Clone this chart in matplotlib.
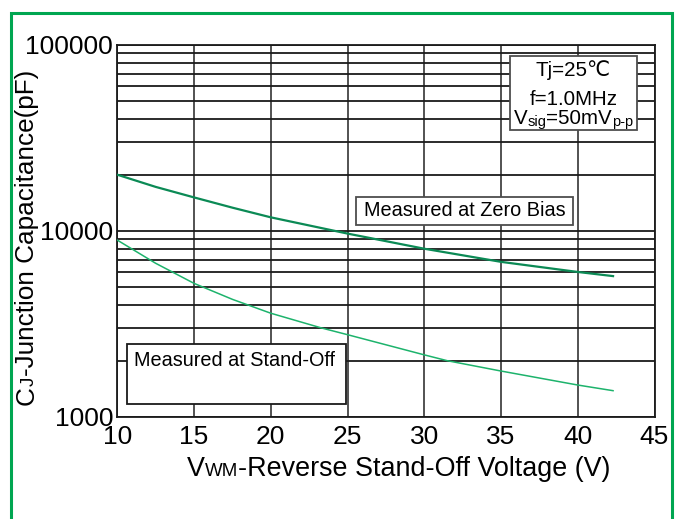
import matplotlib
matplotlib.use("Agg")
import matplotlib.pyplot as plt
from matplotlib.patches import Rectangle
from matplotlib.ticker import FixedLocator, NullFormatter

# ---------------- data ----------------
zero_bias_v = [10, 12.5, 15, 17.5, 20, 25, 30, 35, 40, 42.3]
zero_bias_c = [20000, 17200, 15100, 13300, 11800, 9650, 8000, 6800, 6000, 5700]

standoff_v = [10, 12.5, 15, 17.5, 20, 23.3, 25, 30, 31.5, 35, 40, 42.3]
standoff_c = [8900, 6680, 5210, 4275, 3600, 3000, 2760, 2150, 2000, 1760, 1480, 1380]

x_ticks = [10, 15, 20, 25, 30, 35, 40, 45]
y_ticks = [1000, 10000, 100000]
y_tick_labels = ["1000", "10000", "100000"]

FAM = ["Liberation Sans", "DejaVu Sans"]
plt.rcParams["font.family"] = FAM

W, H = 678, 519
fig = plt.figure(figsize=(W / 100, H / 100), dpi=100)

def fx(x):
    return x / W

def fy(y):
    return 1 - y / H

# axes placement in pixels
L, R, T, B = 117.3, 654.5, 44.7, 416.7
ax = fig.add_axes([fx(L), fy(B), (R - L) / W, (B - T) / H])

ax.set_yscale("log")
ax.set_xlim(10, 45)
ax.set_ylim(1000, 100000)

ax.set_xticks(x_ticks)
ax.set_xticklabels([str(t) for t in x_ticks])
ax.yaxis.set_major_locator(FixedLocator(y_ticks))
ax.set_yticklabels(y_tick_labels)
minor = [m * d for d in (1000, 10000) for m in range(2, 10)]
ax.yaxis.set_minor_locator(FixedLocator(minor))
ax.yaxis.set_minor_formatter(NullFormatter())
ax.tick_params(axis="both", which="both", length=0)
ax.tick_params(axis="y", labelsize=19, pad=3)
ax.tick_params(axis="x", labelsize=19, pad=6)

ax.grid(True, which="both", axis="y", color="#1a1a1a", linewidth=1.3)
ax.grid(True, which="major", axis="x", color="#444444", linewidth=1.3)
ax.set_axisbelow(True)
for s in ax.spines.values():
    s.set_color("#1a1a1a")
    s.set_linewidth(1.3)

ax.plot(zero_bias_v, zero_bias_c, color="#0b8a55", linewidth=1.6, zorder=3)
ax.plot(standoff_v, standoff_c, color="#1db36c", linewidth=1.1, zorder=3)

fig.canvas.draw()
rend = fig.canvas.get_renderer()

def seg_text(segs, cx, cy, rot=0, z=6):
    """segs: list of (text, size, dy_px). cx: centre, cy: baseline (pixels from top-left)."""
    widths = []
    for s, size, dy in segs:
        t = fig.text(0, 0, s, fontsize=size)
        widths.append(t.get_window_extent(rend).width)
        t.remove()
    total = sum(widths)
    pos = -total / 2
    for (s, size, dy), w in zip(segs, widths):
        if rot == 0:
            fig.text(fx(cx + pos), fy(cy + dy), s, fontsize=size,
                     ha="left", va="baseline", zorder=z)
        else:
            fig.text(fx(cx + dy), fy(cy - pos), s, fontsize=size,
                     ha="left", va="baseline", rotation=90,
                     rotation_mode="anchor", zorder=z)
        pos += w

# axis labels
seg_text([("V", 19.4, 0), ("WM", 13.5, 0), ("-Reverse Stand-Off Voltage (V)", 19.4, 0)],
         399, 476)
seg_text([("C", 18.8, 0), ("J", 13.5, 0), ("-Junction Capacitance(pF)", 18.8, 0)],
         34, 237.5, rot=90)

# annotation boxes
fig.add_artist(Rectangle((fx(356), fy(225)), (573 - 356) / W, (225 - 196.7) / H,
                         transform=fig.transFigure, facecolor="white",
                         edgecolor="#4d4d4d", linewidth=1.3, zorder=5))
fig.text(fx(464.5), fy(211), "Measured at Zero Bias", fontsize=14.3,
         ha="center", va="center", zorder=6)

fig.add_artist(Rectangle((fx(127.5), fy(404)), (345.7 - 127.5) / W, (404 - 344) / H,
                         transform=fig.transFigure, facecolor="white",
                         edgecolor="#1a1a1a", linewidth=1.3, zorder=5))
fig.text(fx(235), fy(360), "Measured at Stand-Off", fontsize=14.3,
         ha="center", va="center", zorder=6)

fig.add_artist(Rectangle((fx(510), fy(130)), (637 - 510) / W, (130 - 56) / H,
                         transform=fig.transFigure, facecolor="white",
                         edgecolor="#4d4d4d", linewidth=1.3, zorder=5))
fig.text(fx(573.5), fy(76.5), "Tj=25\u2103", fontsize=14.8, ha="center", va="baseline", zorder=6)
fig.text(fx(573.5), fy(105), "f=1.0MHz", fontsize=14.8, ha="center", va="baseline", zorder=6)
seg_text([("V", 14.8, 0), ("sig", 10.5, 1.5), ("=50mV", 14.8, 0), ("p-p", 10.5, 1.5)], 573.5, 124.5)

# green frame
fig.add_artist(Rectangle((fx(11), fy(530)), (672 - 11) / W, (530 - 12.5) / H,
                         transform=fig.transFigure, facecolor="none",
                         edgecolor="#00a651", linewidth=2.2, zorder=10))

fig.savefig("out.png", dpi=100)
